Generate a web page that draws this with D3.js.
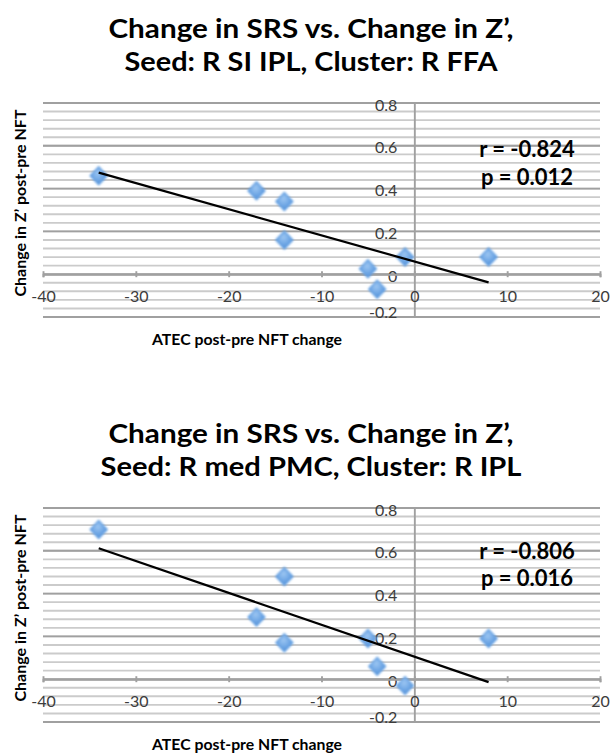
<!DOCTYPE html>
<html>
<head>
<meta charset="utf-8">
<script src="https://cdn.jsdelivr.net/npm/d3@7"></script>
<style>
  html, body { margin: 0; padding: 0; background: #ffffff; }
  svg { display: block; }
  text { font-family: Lato, "Open Sans", "Liberation Sans", sans-serif; }
</style>
</head>
<body>
<svg id="chart" width="610" height="754"></svg>
<script>
// ---- data ----
const xTicks = [-40, -30, -20, -10, 0, 10, 20];
const yTicks = [-0.2, 0, 0.2, 0.4, 0.6, 0.8];
const yTickLabels = ["-0.2", "0", "0.2", "0.4", "0.6", "0.8"];

const atecChange = [-34, -17, -14, -14, -5, -4, -1, 8];
const zChangeFFA = [0.46, 0.39, 0.34, 0.16, 0.025, -0.07, 0.08, 0.08];
const zChangeIPL = [0.70, 0.29, 0.48, 0.17, 0.19, 0.06, -0.03, 0.19];

const titleFFA = ["Change in SRS vs. Change in Z’,", "Seed: R SI IPL, Cluster: R FFA"];
const titleIPL = ["Change in SRS vs. Change in Z’,", "Seed: R med PMC, Cluster: R IPL"];
const statsFFA = ["r = -0.824", "p = 0.012"];
const statsIPL = ["r = -0.806", "p = 0.016"];

const xAxisTitle = "ATEC post-pre NFT change";
const yAxisTitle = "Change in Z’ post-pre NFT";

// ---- layout ----
const svg = d3.select("#chart");
const defs = svg.append("defs");

const grad = defs.append("radialGradient")
  .attr("id", "markerFill").attr("cx", "45%").attr("cy", "35%").attr("r", "70%");
grad.append("stop").attr("offset", "0%").attr("stop-color", "#9cc6f2");
grad.append("stop").attr("offset", "60%").attr("stop-color", "#6aa3e3");
grad.append("stop").attr("offset", "100%").attr("stop-color", "#4c89d2");

defs.append("filter").attr("id", "soft")
  .attr("x", "-30%").attr("y", "-30%").attr("width", "160%").attr("height", "160%")
  .append("feGaussianBlur").attr("stdDeviation", 0.9);

const plotLeft = 43, plotRight = 600, plotHeight = 214;

function drawPanel(top, titleLines, xs, ys, stats, statsOffsets, titleWidths) {
  const g = svg.append("g");
  const x = d3.scaleLinear().domain([-40, 20]).range([plotLeft, plotRight]);
  const y = d3.scaleLinear().domain([-0.2, 0.8]).range([top + plotHeight, top]);

  // minor gridlines every 0.04, major every 0.2
  const minor = d3.range(0, 26).map(i => -0.2 + i * 0.04);
  g.append("g").selectAll("line").data(minor).join("line")
    .attr("x1", plotLeft).attr("x2", plotRight)
    .attr("y1", d => y(d)).attr("y2", d => y(d))
    .attr("stroke", "#cbcbcb").attr("stroke-width", 1.9);
  g.append("g").selectAll("line").data(yTicks).join("line")
    .attr("x1", plotLeft).attr("x2", plotRight)
    .attr("y1", d => y(d)).attr("y2", d => y(d))
    .attr("stroke", "#a0a0a0").attr("stroke-width", 1.9);

  // vertical axis through x = 0
  const yAxis = g.append("g")
    .attr("transform", `translate(${x(0)},0)`)
    .call(d3.axisLeft(y).tickValues(yTicks)
      .tickFormat((d, i) => yTickLabels[i]).tickSize(0));
  yAxis.select(".domain").attr("stroke", "#a0a0a0").attr("stroke-width", 1.9);
  yAxis.selectAll("text")
    .attr("x", -17)
    .attr("dy", 0)
    .attr("y", (d, i) => i === 0 ? 0 : 7)
    .attr("fill", "#3c3c3c")
    .style("font-size", "16px")
    .style("font-family", "Lato, 'Open Sans', sans-serif");

  // horizontal axis through y = 0
  const xAxis = g.append("g")
    .attr("transform", `translate(0,${y(0)})`)
    .call(d3.axisBottom(x).tickValues(xTicks).tickFormat(d => String(d)).tickSize(3));
  xAxis.select(".domain").attr("stroke", "#a0a0a0").attr("stroke-width", 1.9);
  xAxis.selectAll(".tick line").attr("stroke", "#a0a0a0").attr("stroke-width", 1.9)
    .attr("y1", -3).attr("y2", 3);
  xAxis.selectAll("text")
    .attr("y", 28).attr("dy", 0)
    .attr("fill", "#3c3c3c")
    .style("font-size", "16px")
    .style("font-family", "Lato, 'Open Sans', sans-serif");

  // points
  const pts = xs.map((v, i) => [v, ys[i]]);
  g.append("g").selectAll("path").data(pts).join("path")
    .attr("d", "M0,-9 L8.5,0 L0,9 L-8.5,0 Z")
    .attr("transform", d => `translate(${x(d[0])},${y(d[1])})`)
    .attr("fill", "url(#markerFill)")
    .attr("stroke", "#64a0e2").attr("stroke-width", 1.4)
    .attr("stroke-linejoin", "round")
    .attr("filter", "url(#soft)");

  // least-squares trendline across the data range
  const mx = d3.mean(xs), my = d3.mean(ys);
  let sxy = 0, sxx = 0;
  xs.forEach((v, i) => { sxy += (v - mx) * (ys[i] - my); sxx += (v - mx) * (v - mx); });
  const slope = sxy / sxx, icpt = my - slope * mx;
  const [xmin, xmax] = d3.extent(xs);
  g.append("path")
    .datum([[xmin, icpt + slope * xmin], [xmax, icpt + slope * xmax]])
    .attr("d", d3.line().x(d => x(d[0])).y(d => y(d[1])))
    .attr("stroke", "#000").attr("stroke-width", 2.2).attr("fill", "none");

  // correlation annotation
  stats.forEach((s, i) => {
    g.append("text")
      .attr("x", 527).attr("y", top + statsOffsets[i])
      .attr("text-anchor", "middle")
      .style("font-weight", 700).style("font-size", "22px")
      .attr("fill", "#000")
      .text(s);
  });

  // axis titles
  g.append("text")
    .attr("x", 247).attr("y", top + 242)
    .attr("text-anchor", "middle")
    .attr("textLength", 190).attr("lengthAdjust", "spacingAndGlyphs")
    .style("font-weight", 700).style("font-size", "16px")
    .text(xAxisTitle);
  g.append("text")
    .attr("transform", `translate(26,${top + 100}) rotate(-90)`)
    .attr("text-anchor", "middle")
    .attr("textLength", 187).attr("lengthAdjust", "spacingAndGlyphs")
    .style("font-weight", 700).style("font-size", "16px")
    .text(yAxisTitle);

  // chart title
  titleLines.forEach((t, i) => {
    g.append("text")
      .attr("x", 311).attr("y", top - 65 + i * 33)
      .attr("text-anchor", "middle")
      .attr("textLength", titleWidths[i]).attr("lengthAdjust", "spacingAndGlyphs")
      .style("font-weight", 700).style("font-size", "26px")
      .text(t);
  });
}

drawPanel(103, titleFFA, atecChange, zChangeFFA, statsFFA, [54, 82], [405, 373]);
drawPanel(508, titleIPL, atecChange, zChangeIPL, statsIPL, [51, 78], [405, 421]);
</script>
</body>
</html>
